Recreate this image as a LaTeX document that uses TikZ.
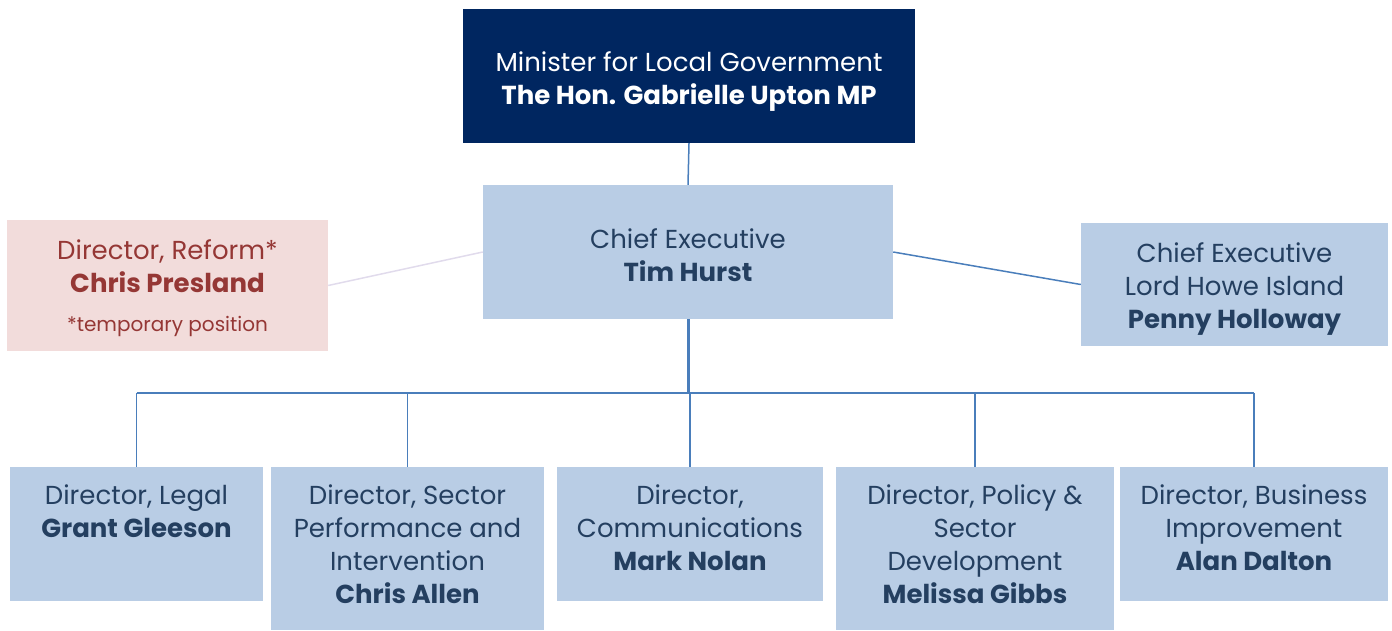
\documentclass[tikz,border=0pt]{standalone}
\usepackage{fontspec}
\setmainfont{Poppins}
\definecolor{navy}{HTML}{002660}
\definecolor{lblue}{HTML}{B9CDE5}
\definecolor{pinkbg}{HTML}{F2DCDB}
\definecolor{redtxt}{HTML}{953735}
\definecolor{dtxt}{HTML}{243F60}
\definecolor{lineblue}{HTML}{4A7EBB}
\definecolor{lavline}{HTML}{E1DBEC}
\begin{document}
\begin{tikzpicture}[x=1pt,y=-1pt,
  box/.style={rectangle, inner sep=0pt, draw=none},
  bluebox/.style={box, fill=lblue},
  txt/.style={align=center, inner sep=0pt, text=dtxt, font=\fontsize{26}{33}\selectfont},
  conn/.style={draw=lineblue, line width=1.5pt}
]
\useasboundingbox (0,0) rectangle (1392,631);
% top
\node[box, fill=navy, minimum width=452pt, minimum height=134pt] (min) at (689,76) {};
\node[txt, text=white] (minT) at (689,82) {Minister for Local Government\\\textbf{The Hon. Gabrielle Upton MP}};
\node[bluebox, minimum width=410pt, minimum height=134pt] (ce) at (688,252) {};
\node[txt] (ceT) at (688,255) {Chief Executive\\\textbf{Tim Hurst}};
\node[box, fill=pinkbg, minimum width=321pt, minimum height=131pt] (ref) at (167.5,285.5) {};
\node[txt, text=redtxt, anchor=north] (refT) at (167.5,239) {Director, Reform*\\\textbf{Chris Presland}\\[6pt]{\fontsize{20}{24}\selectfont *temporary position}};
\node[bluebox, minimum width=307pt, minimum height=123pt] (lhi) at (1234.5,284.5) {};
\node[txt] (lhiT) at (1234.5,289) {Chief Executive\\Lord Howe Island\\\textbf{Penny Holloway}};
% bottom
\node[bluebox, minimum width=253pt, minimum height=134pt] (leg) at (136.5,534) {};
\node[bluebox, minimum width=273pt, minimum height=163pt] (spi) at (407.5,548.5) {};
\node[bluebox, minimum width=266pt, minimum height=134pt] (com) at (690,534) {};
\node[bluebox, minimum width=278pt, minimum height=163pt] (pol) at (975,548.5) {};
\node[bluebox, minimum width=268pt, minimum height=134pt] (bus) at (1254,534) {};
\node[txt, anchor=north] (legT) at (136.5,485) {Director, Legal\\\textbf{Grant Gleeson}};
\node[txt, anchor=north] (spiT) at (407.5,485) {Director, Sector\\Performance and\\Intervention\\\textbf{Chris Allen}};
\node[txt, anchor=north] (comT) at (690,485) {Director,\\Communications\\\textbf{Mark Nolan}};
\node[txt, anchor=north] (polT) at (975,485) {Director, Policy \&\\Sector\\Development\\\textbf{Melissa Gibbs}};
\node[txt, anchor=north] (busT) at (1254,485) {Director, Business\\Improvement\\\textbf{Alan Dalton}};
% connectors
\coordinate (hub) at (688,393);
\draw[conn] (min.south) -- (ce.north);
\draw[conn, line width=3pt] (ce.south) -- (hub);
\draw[conn, line width=2pt] (leg.north |- hub) -- (bus.north |- hub);
\foreach \n in {leg,spi,com,pol,bus}{
  \draw[conn] (\n.north |- hub) -- (\n.north);
}
\draw[conn] (ce.east) -- (lhi.west);
\draw[draw=lavline, line width=1.5pt] (ce.west) -- (ref.east);
\end{tikzpicture}
\end{document}
